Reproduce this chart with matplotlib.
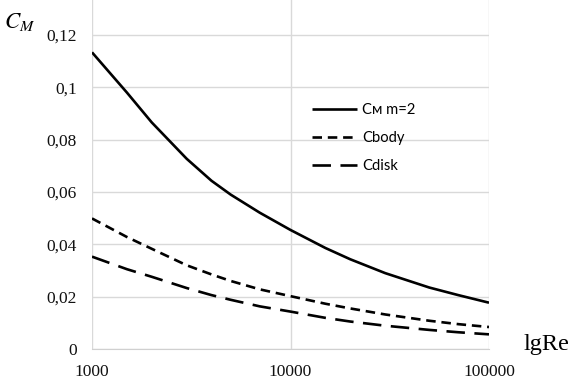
import matplotlib
matplotlib.use("Agg")
import matplotlib.pyplot as plt

re_vals = [1000, 1500, 2000, 3000, 4000, 5000, 7000, 10000, 15000, 20000, 30000, 50000, 70000, 100000]
cm_m2 = [0.1134, 0.0980, 0.0866, 0.0727, 0.0643, 0.0590, 0.0521, 0.0455, 0.0386, 0.0343, 0.0290, 0.0235, 0.0206, 0.0177]
cbody = [0.0499, 0.0428, 0.0383, 0.0320, 0.0285, 0.0260, 0.0228, 0.0202, 0.0173, 0.0155, 0.0132, 0.0108, 0.0095, 0.0084]
cdisk = [0.0353, 0.0305, 0.0276, 0.0233, 0.0206, 0.0188, 0.0163, 0.0143, 0.0119, 0.0105, 0.0089, 0.0073, 0.0064, 0.0056]

xticks = [1000, 10000, 100000]
xlabels = ["1000", "10000", "100000"]
yticks = [0, 0.02, 0.04, 0.06, 0.08, 0.10, 0.12]
ylabels = ["0", "0,02", "0,04", "0,06", "0,08", "0,1", "0,12"]

W, H = 582, 384
fig = plt.figure(figsize=(W/100, H/100), dpi=100)
ax = fig.add_axes([92/W, 35/H, (489-92)/W, 349/H])

lw = 1.9
ax.plot(re_vals, cm_m2, color="black", lw=lw, label="Cм m=2",
        solid_capstyle="butt", solid_joinstyle="round")
ax.plot(re_vals, cbody, color="black", lw=lw, linestyle=(0, (3.6, 2.2)), label="Cbody",
        dash_capstyle="butt")
ax.plot(re_vals, cdisk, color="black", lw=lw, linestyle=(0, (7.0, 3.6)), label="Cdisk",
        dash_capstyle="butt")

ax.set_xscale("log")
ax.set_xlim(1000, 100000)
ax.set_ylim(0, 0.1334)
ax.set_xticks(xticks)
ax.set_xticklabels(xlabels)
ax.set_yticks(yticks)
ax.set_yticklabels(ylabels)
ax.minorticks_off()
ax.grid(True, color="#d9d9d9", lw=1.0)
ax.set_axisbelow(True)
for s in ["top", "right", "left"]:
    ax.spines[s].set_visible(False)
ax.spines["bottom"].set_color("#d0d0d0")
ax.tick_params(length=0)
ax.tick_params(axis="y", pad=10.8)
ax.tick_params(axis="x", pad=11)
for lab in ax.get_xticklabels() + ax.get_yticklabels():
    lab.set_family("Liberation Serif")
    lab.set_fontsize(12.5)
    lab.set_color("#111111")

leg = ax.legend(loc="upper left", bbox_to_anchor=((311.7-92)/397, (349-103)/349),
                frameon=False, borderpad=0, borderaxespad=0,
                prop={"family": "Lato", "size": 10.6},
                handlelength=3.06, labelspacing=0.95, handletextpad=0.34)

fig.text(4/W, 1 - 28/H, r"$C_M$", fontsize=16.5, math_fontfamily="stix",
         ha="left", va="baseline")
fig.text(524/W, 1 - 350/H, "lgRe", fontsize=17.5, family="Liberation Serif",
         ha="left", va="baseline")

fig.savefig("out.png", dpi=100)
